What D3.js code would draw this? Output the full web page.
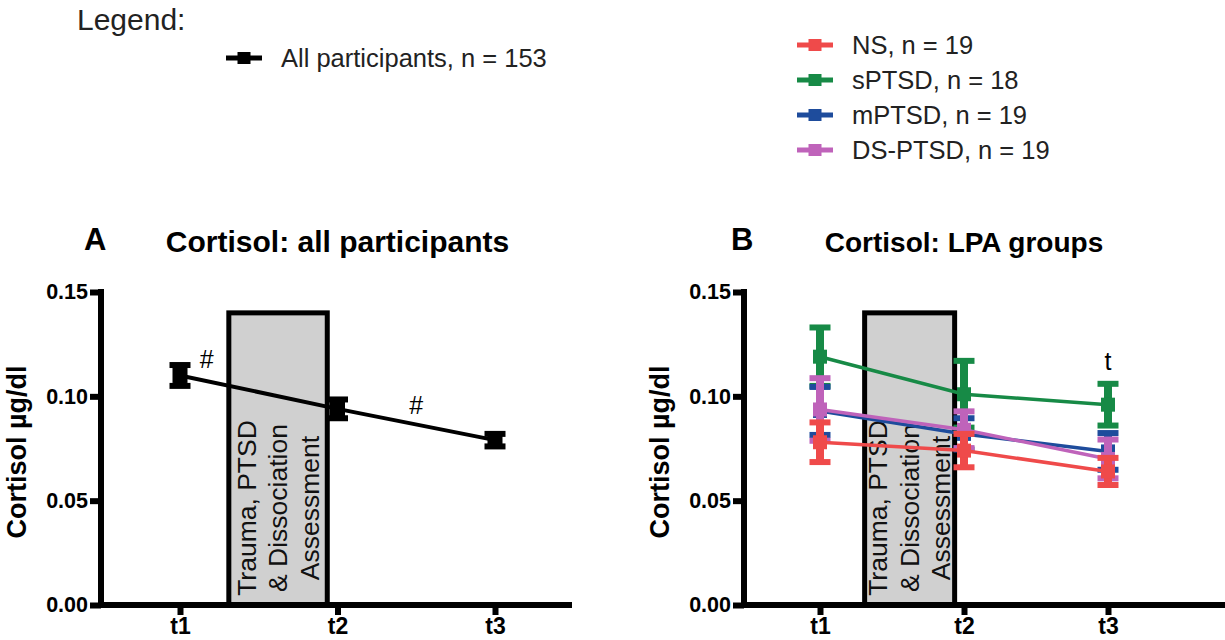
<!DOCTYPE html>
<html>
<head>
<meta charset="utf-8">
<script src="https://cdn.jsdelivr.net/npm/d3@7"></script>
<style>
  body { margin: 0; background: #fff; }
  svg { display: block; font-family: "Liberation Sans", Arial, sans-serif; }
</style>
</head>
<body>
<svg id="chart" width="1225" height="640"></svg>
<script>
// data (cortisol, µg/dl)
const timepoints = ['t1', 't2', 't3'];
const yTicks = [0, 0.05, 0.10, 0.15];

const allMean = [0.110, 0.094, 0.079];
const allSem = [0.005, 0.0045, 0.003];

const groupNames = ['NS', 'sPTSD', 'mPTSD', 'DS-PTSD'];
const groupN = [19, 18, 19, 19];
const nsMean = [0.078, 0.074, 0.064];
const nsSem = [0.0095, 0.008, 0.0065];
const sptsdMean = [0.119, 0.101, 0.096];
const sptsdSem = [0.014, 0.016, 0.010];
const mptsdMean = [0.093, 0.082, 0.0736];
const mptsdSem = [0.0115, 0.0075, 0.0088];
const dsMean = [0.0937, 0.084, 0.070];
const dsSem = [0.015, 0.0088, 0.0093];
const groupColors = ['#ef4a4a', '#178a46', '#1e4c9c', '#bf63ba'];

// shaded assessment window between t1 and t2
const assessment = [1.31, 1.935];
const assessmentTop = 0.140;
const assessmentLines = ['Trauma, PTSD', '& Dissociation', 'Assessment'];

const notesA = [{ text: '#', t: 1.17, v: 0.118 }, { text: '#', t: 2.5, v: 0.096 }];
const notesB = [{ text: 't', t: 3, v: 0.117 }];

const svg = d3.select('#chart');

function errorPoint(g, x, y, t, m, e, color, barW, box) {
  const cx = x(t);
  g.append('line')
    .attr('x1', cx).attr('x2', cx)
    .attr('y1', y(m - e)).attr('y2', y(m + e))
    .attr('stroke', color).attr('stroke-width', barW);
  [m - e, m + e].forEach((v) => {
    g.append('line')
      .attr('x1', cx - 10.5).attr('x2', cx + 10.5)
      .attr('y1', y(v)).attr('y2', y(v))
      .attr('stroke', color).attr('stroke-width', 6);
  });
  g.append('rect')
    .attr('x', cx - box / 2).attr('y', y(m) - box / 2)
    .attr('width', box).attr('height', box)
    .attr('fill', color);
}

function series(g, x, y, means, sems, color, lineW, barW, box) {
  const line = d3.line().x((d, i) => x(i + 1)).y((d) => y(d));
  g.append('path')
    .datum(means)
    .attr('d', line)
    .attr('fill', 'none')
    .attr('stroke', color)
    .attr('stroke-width', lineW);
  means.forEach((m, i) => errorPoint(g, x, y, i + 1, m, sems[i], color, barW, box));
}

function panel(o) {
  const x = d3.scaleLinear().domain([1, 3]).range(o.tRange);
  const y = d3.scaleLinear().domain([0, 0.15]).range([605, 292]);
  const g = svg.append('g');

  // assessment box
  const bx0 = x(assessment[0]), bx1 = x(assessment[1]);
  g.append('rect')
    .attr('x', bx0).attr('y', y(assessmentTop))
    .attr('width', bx1 - bx0).attr('height', y(0) - y(assessmentTop))
    .attr('fill', '#d0d0d0').attr('stroke', '#000').attr('stroke-width', 5);
  const bc = (bx0 + bx1) / 2;
  assessmentLines.forEach((s, i) => {
    g.append('text')
      .attr('transform', `translate(${bc + (i - 1) * 31.5},508) rotate(-90)`)
      .attr('text-anchor', 'middle')
      .attr('dominant-baseline', 'central')
      .attr('font-size', 26.5)
      .attr('fill', '#111')
      .text(s);
  });

  // axes
  const ya = g.append('g')
    .attr('transform', `translate(${o.axisX},0)`)
    .call(d3.axisLeft(y).tickValues(yTicks).tickFormat(d3.format('.2f')).tickSize(11).tickPadding(2));
  const xa = g.append('g')
    .attr('transform', 'translate(0,605)')
    .call(d3.axisBottom(x).tickValues([1, 2, 3]).tickFormat((d) => timepoints[d - 1]).tickSize(10).tickPadding(3));
  [ya, xa].forEach((a) => {
    a.select('.domain').remove();
    a.selectAll('.tick line').attr('stroke', '#000').attr('stroke-width', 6);
    a.selectAll('.tick text')
      .attr('font-family', '"Liberation Sans", Arial, sans-serif')
      .attr('font-size', 21.5).attr('font-weight', 'bold').attr('fill', '#000');
  });
  xa.selectAll('.tick text').attr('font-size', 23);
  g.append('line')
    .attr('x1', o.axisX).attr('x2', o.axisX)
    .attr('y1', y(0.15) - 3).attr('y2', y(0) + 3)
    .attr('stroke', '#000').attr('stroke-width', 6);
  g.append('line')
    .attr('x1', o.axisX - 3).attr('x2', o.xEnd)
    .attr('y1', y(0)).attr('y2', y(0))
    .attr('stroke', '#000').attr('stroke-width', 6);

  g.append('text')
    .attr('transform', `translate(${o.axisX - 75},452) rotate(-90)`)
    .attr('text-anchor', 'middle')
    .attr('font-size', 27).attr('font-weight', 'bold')
    .text('Cortisol µg/dl');

  // panel letter and title
  g.append('text')
    .attr('x', o.letterX).attr('y', 250)
    .attr('font-size', 31).attr('font-weight', 'bold')
    .text(o.letter);
  g.append('text')
    .attr('x', x(2)).attr('y', 252)
    .attr('text-anchor', 'middle')
    .attr('font-size', o.titleSize).attr('font-weight', 'bold')
    .text(o.title);

  o.draw(g, x, y);

  o.notes.forEach((n) => {
    g.append('text')
      .attr('x', x(n.t)).attr('y', y(n.v))
      .attr('text-anchor', 'middle')
      .attr('dominant-baseline', 'central')
      .attr('font-size', 25)
      .text(n.text);
  });
}

panel({
  tRange: [180, 495], axisX: 101, xEnd: 572,
  letter: 'A', letterX: 84, title: 'Cortisol: all participants', titleSize: 30,
  notes: notesA,
  draw: (g, x, y) => series(g, x, y, allMean, allSem, '#000', 4, 12, 15)
});

const groupMeans = [nsMean, sptsdMean, mptsdMean, dsMean];
const groupSems = [nsSem, sptsdSem, mptsdSem, dsSem];
panel({
  tRange: [820, 1108], axisX: 744, xEnd: 1225,
  letter: 'B', letterX: 731, title: 'Cortisol: LPA groups', titleSize: 28,
  notes: notesB,
  draw: (g, x, y) => {
    [1, 2, 3, 0].forEach((k) => series(g, x, y, groupMeans[k], groupSems[k], groupColors[k], 3.5, 8, 14));
  }
});

// legends
function legendItem(cx, cy, color, label) {
  svg.append('line')
    .attr('x1', cx - 18).attr('x2', cx + 18)
    .attr('y1', cy).attr('y2', cy)
    .attr('stroke', color).attr('stroke-width', 5);
  svg.append('rect')
    .attr('x', cx - 6.5).attr('y', cy - 6)
    .attr('width', 13).attr('height', 12)
    .attr('fill', color);
  svg.append('text')
    .attr('x', cx + 37).attr('y', cy + 9)
    .attr('font-size', 25.5).attr('fill', '#222')
    .text(label);
}

svg.append('text')
  .attr('x', 77).attr('y', 30)
  .attr('font-size', 30).attr('fill', '#222')
  .text('Legend:');
legendItem(244, 58, '#000', 'All participants, n = 153');
groupNames.forEach((name, i) => {
  legendItem(815, 45 + i * 35, groupColors[i], `${name}, n = ${groupN[i]}`);
});
</script>
</body>
</html>
